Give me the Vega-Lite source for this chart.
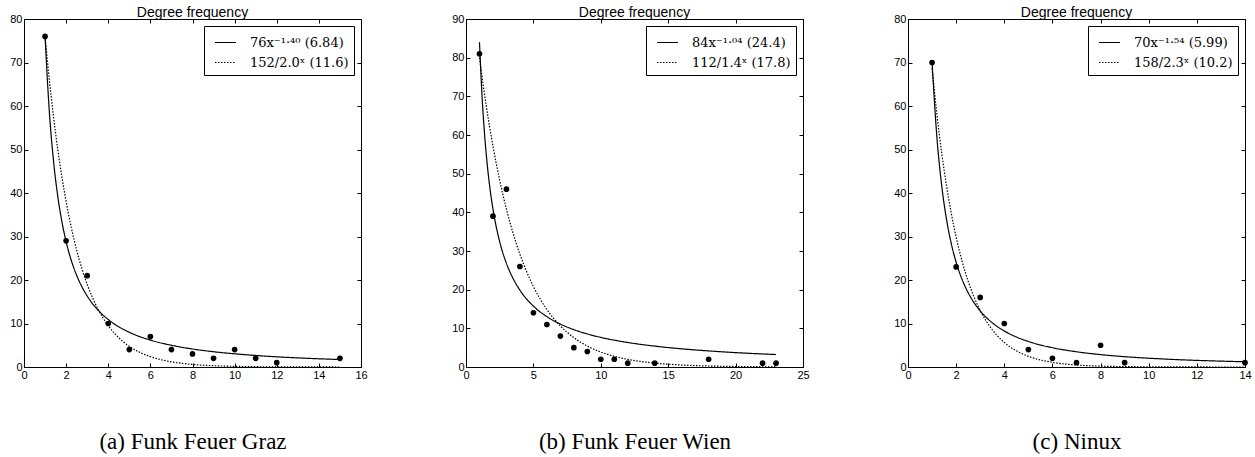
{
  "$schema": "https://vega.github.io/schema/vega-lite/v6.json",
  "background": "white",
  "padding": {"left": 9, "top": 5, "right": 5, "bottom": 5},
  "spacing": 105,
  "bounds": "flush",
  "resolve": {"scale": {"strokeDash": "independent"}, "legend": {"strokeDash": "independent"}},
  "datasets": {
    "c1": [
      {"f": "power", "x": 1, "y": 76}, {"f": "power", "x": 1.2, "y": 58.88}, {"f": "power", "x": 1.4, "y": 47.45}, {"f": "power", "x": 1.6, "y": 39.36}, {"f": "power", "x": 1.8, "y": 33.38}, {"f": "power", "x": 2, "y": 28.8}, {"f": "power", "x": 2.25, "y": 24.42}, {"f": "power", "x": 2.5, "y": 21.07}, {"f": "power", "x": 2.75, "y": 18.44}, {"f": "power", "x": 3, "y": 16.32}, {"f": "power", "x": 3.5, "y": 13.16}, {"f": "power", "x": 4, "y": 10.91}, {"f": "power", "x": 4.5, "y": 9.25}, {"f": "power", "x": 5, "y": 7.98}, {"f": "power", "x": 6, "y": 6.18}, {"f": "power", "x": 7, "y": 4.99}, {"f": "power", "x": 8, "y": 4.14}, {"f": "power", "x": 9, "y": 3.51}, {"f": "power", "x": 10, "y": 3.03}, {"f": "power", "x": 11, "y": 2.65}, {"f": "power", "x": 12, "y": 2.34}, {"f": "power", "x": 13, "y": 2.1}, {"f": "power", "x": 14, "y": 1.89}, {"f": "power", "x": 15, "y": 1.72},
      {"f": "exp", "x": 1, "y": 76}, {"f": "exp", "x": 1.2, "y": 66.16}, {"f": "exp", "x": 1.4, "y": 57.6}, {"f": "exp", "x": 1.6, "y": 50.14}, {"f": "exp", "x": 1.8, "y": 43.65}, {"f": "exp", "x": 2, "y": 38}, {"f": "exp", "x": 2.25, "y": 31.95}, {"f": "exp", "x": 2.5, "y": 26.87}, {"f": "exp", "x": 2.75, "y": 22.59}, {"f": "exp", "x": 3, "y": 19}, {"f": "exp", "x": 3.5, "y": 13.43}, {"f": "exp", "x": 4, "y": 9.5}, {"f": "exp", "x": 4.5, "y": 6.72}, {"f": "exp", "x": 5, "y": 4.75}, {"f": "exp", "x": 5.5, "y": 3.36}, {"f": "exp", "x": 6, "y": 2.375}, {"f": "exp", "x": 6.5, "y": 1.68}, {"f": "exp", "x": 7, "y": 1.19}, {"f": "exp", "x": 8, "y": 0.59}, {"f": "exp", "x": 9, "y": 0.3}, {"f": "exp", "x": 10, "y": 0.15}, {"f": "exp", "x": 11, "y": 0.07}, {"f": "exp", "x": 12, "y": 0.04}, {"f": "exp", "x": 13, "y": 0.02}, {"f": "exp", "x": 14, "y": 0.01}, {"f": "exp", "x": 15, "y": 0.005}
    ],
    "p1": [
      {"x": 1, "y": 76}, {"x": 2, "y": 29}, {"x": 3, "y": 21}, {"x": 4, "y": 10}, {"x": 5, "y": 4}, {"x": 6, "y": 7}, {"x": 7, "y": 4}, {"x": 8, "y": 3}, {"x": 9, "y": 2}, {"x": 10, "y": 4}, {"x": 11, "y": 2}, {"x": 12, "y": 1}, {"x": 15, "y": 2}
    ],
    "c2": [
      {"f": "power", "x": 1, "y": 84}, {"f": "power", "x": 1.2, "y": 69.49}, {"f": "power", "x": 1.4, "y": 59.2}, {"f": "power", "x": 1.6, "y": 51.52}, {"f": "power", "x": 1.8, "y": 45.58}, {"f": "power", "x": 2, "y": 40.85}, {"f": "power", "x": 2.5, "y": 32.39}, {"f": "power", "x": 3, "y": 26.79}, {"f": "power", "x": 3.5, "y": 22.83}, {"f": "power", "x": 4, "y": 19.87}, {"f": "power", "x": 5, "y": 15.75}, {"f": "power", "x": 6, "y": 13.03}, {"f": "power", "x": 7, "y": 11.1}, {"f": "power", "x": 8, "y": 9.66}, {"f": "power", "x": 9, "y": 8.55}, {"f": "power", "x": 10, "y": 7.66}, {"f": "power", "x": 12, "y": 6.34}, {"f": "power", "x": 14, "y": 5.4}, {"f": "power", "x": 16, "y": 4.7}, {"f": "power", "x": 18, "y": 4.16}, {"f": "power", "x": 20, "y": 3.72}, {"f": "power", "x": 23, "y": 3.22},
      {"f": "exp", "x": 1, "y": 80}, {"f": "exp", "x": 1.25, "y": 73.54}, {"f": "exp", "x": 1.5, "y": 67.61}, {"f": "exp", "x": 1.75, "y": 62.16}, {"f": "exp", "x": 2, "y": 57.14}, {"f": "exp", "x": 2.5, "y": 48.29}, {"f": "exp", "x": 3, "y": 40.82}, {"f": "exp", "x": 3.5, "y": 34.5}, {"f": "exp", "x": 4, "y": 29.15}, {"f": "exp", "x": 5, "y": 20.82}, {"f": "exp", "x": 6, "y": 14.87}, {"f": "exp", "x": 7, "y": 10.62}, {"f": "exp", "x": 8, "y": 7.59}, {"f": "exp", "x": 9, "y": 5.42}, {"f": "exp", "x": 10, "y": 3.87}, {"f": "exp", "x": 11, "y": 2.77}, {"f": "exp", "x": 12, "y": 1.98}, {"f": "exp", "x": 13, "y": 1.41}, {"f": "exp", "x": 14, "y": 1.01}, {"f": "exp", "x": 16, "y": 0.51}, {"f": "exp", "x": 18, "y": 0.26}, {"f": "exp", "x": 20, "y": 0.13}, {"f": "exp", "x": 23, "y": 0.05}
    ],
    "p2": [
      {"x": 1, "y": 81}, {"x": 2, "y": 39}, {"x": 3, "y": 46}, {"x": 4, "y": 26}, {"x": 5, "y": 14}, {"x": 6, "y": 11}, {"x": 7, "y": 8}, {"x": 8, "y": 5}, {"x": 9, "y": 4}, {"x": 10, "y": 2}, {"x": 11, "y": 2}, {"x": 12, "y": 1}, {"x": 14, "y": 1}, {"x": 18, "y": 2}, {"x": 22, "y": 1}, {"x": 23, "y": 1}
    ],
    "c3": [
      {"f": "power", "x": 1, "y": 70}, {"f": "power", "x": 1.2, "y": 52.86}, {"f": "power", "x": 1.4, "y": 41.69}, {"f": "power", "x": 1.6, "y": 33.94}, {"f": "power", "x": 1.8, "y": 28.31}, {"f": "power", "x": 2, "y": 24.07}, {"f": "power", "x": 2.25, "y": 20.08}, {"f": "power", "x": 2.5, "y": 17.07}, {"f": "power", "x": 2.75, "y": 14.74}, {"f": "power", "x": 3, "y": 12.89}, {"f": "power", "x": 3.5, "y": 10.17}, {"f": "power", "x": 4, "y": 8.28}, {"f": "power", "x": 4.5, "y": 6.9}, {"f": "power", "x": 5, "y": 5.87}, {"f": "power", "x": 6, "y": 4.43}, {"f": "power", "x": 7, "y": 3.5}, {"f": "power", "x": 8, "y": 2.85}, {"f": "power", "x": 9, "y": 2.37}, {"f": "power", "x": 10, "y": 2.02}, {"f": "power", "x": 11, "y": 1.74}, {"f": "power", "x": 12, "y": 1.52}, {"f": "power", "x": 13, "y": 1.35}, {"f": "power", "x": 14, "y": 1.2},
      {"f": "exp", "x": 1, "y": 68.7}, {"f": "exp", "x": 1.2, "y": 58.15}, {"f": "exp", "x": 1.4, "y": 49.23}, {"f": "exp", "x": 1.6, "y": 41.68}, {"f": "exp", "x": 1.8, "y": 35.28}, {"f": "exp", "x": 2, "y": 29.87}, {"f": "exp", "x": 2.25, "y": 24.25}, {"f": "exp", "x": 2.5, "y": 19.69}, {"f": "exp", "x": 2.75, "y": 15.99}, {"f": "exp", "x": 3, "y": 12.99}, {"f": "exp", "x": 3.5, "y": 8.56}, {"f": "exp", "x": 4, "y": 5.65}, {"f": "exp", "x": 4.5, "y": 3.72}, {"f": "exp", "x": 5, "y": 2.45}, {"f": "exp", "x": 6, "y": 1.07}, {"f": "exp", "x": 7, "y": 0.46}, {"f": "exp", "x": 8, "y": 0.2}, {"f": "exp", "x": 9, "y": 0.09}, {"f": "exp", "x": 10, "y": 0.04}, {"f": "exp", "x": 11, "y": 0.02}, {"f": "exp", "x": 12, "y": 0.01}, {"f": "exp", "x": 13, "y": 0.003}, {"f": "exp", "x": 14, "y": 0.001}
    ],
    "p3": [
      {"x": 1, "y": 70}, {"x": 2, "y": 23}, {"x": 3, "y": 16}, {"x": 4, "y": 10}, {"x": 5, "y": 4}, {"x": 6, "y": 2}, {"x": 7, "y": 1}, {"x": 8, "y": 5}, {"x": 9, "y": 1}, {"x": 14, "y": 1}
    ]
  },
  "hconcat": [
    {
      "width": 337, "height": 348,
      "title": "Degree frequency",
      "resolve": {"axis": {"x": "independent", "y": "independent"}},
      "layer": [
        {
          "data": {"name": "c1"},
          "mark": {"type": "line", "color": "black", "strokeWidth": 1.2, "interpolate": "monotone"},
          "encoding": {
            "x": {"field": "x", "type": "quantitative", "scale": {"domain": [0, 16], "nice": false}, "axis": {"values": [0, 2, 4, 6, 8, 10, 12, 14, 16], "title": "(a) Funk Feuer Graz"}},
            "y": {"field": "y", "type": "quantitative", "scale": {"domain": [0, 80], "nice": false}, "axis": {"values": [0, 10, 20, 30, 40, 50, 60, 70, 80], "title": null}},
            "strokeDash": {"field": "f", "type": "nominal", "scale": {"domain": ["power", "exp"], "range": [[1, 0], [1.5, 1.5]]}, "legend": {"labelExpr": "datum.label == 'power' ? '76x⁻¹·⁴⁰ (6.84)' : '152/2.0ˣ (11.6)'"}}
          }
        },
        {
          "data": {"name": "p1"},
          "mark": {"type": "circle", "color": "black", "size": 32, "opacity": 1},
          "encoding": {
            "x": {"field": "x", "type": "quantitative", "axis": {"orient": "top", "labels": false, "title": null, "values": [0, 2, 4, 6, 8, 10, 12, 14, 16]}},
            "y": {"field": "y", "type": "quantitative", "axis": {"orient": "right", "labels": false, "title": null, "values": [0, 10, 20, 30, 40, 50, 60, 70, 80]}}
          }
        }
      ]
    },
    {
      "width": 337, "height": 348,
      "title": "Degree frequency",
      "resolve": {"axis": {"x": "independent", "y": "independent"}},
      "layer": [
        {
          "data": {"name": "c2"},
          "mark": {"type": "line", "color": "black", "strokeWidth": 1.2, "interpolate": "monotone"},
          "encoding": {
            "x": {"field": "x", "type": "quantitative", "scale": {"domain": [0, 25], "nice": false}, "axis": {"values": [0, 5, 10, 15, 20, 25], "title": "(b) Funk Feuer Wien"}},
            "y": {"field": "y", "type": "quantitative", "scale": {"domain": [0, 90], "nice": false}, "axis": {"values": [0, 10, 20, 30, 40, 50, 60, 70, 80, 90], "title": null}},
            "strokeDash": {"field": "f", "type": "nominal", "scale": {"domain": ["power", "exp"], "range": [[1, 0], [1.5, 1.5]]}, "legend": {"labelExpr": "datum.label == 'power' ? '84x⁻¹·⁰⁴ (24.4)' : '112/1.4ˣ (17.8)'"}}
          }
        },
        {
          "data": {"name": "p2"},
          "mark": {"type": "circle", "color": "black", "size": 32, "opacity": 1},
          "encoding": {
            "x": {"field": "x", "type": "quantitative", "axis": {"orient": "top", "labels": false, "title": null, "values": [0, 5, 10, 15, 20, 25]}},
            "y": {"field": "y", "type": "quantitative", "axis": {"orient": "right", "labels": false, "title": null, "values": [0, 10, 20, 30, 40, 50, 60, 70, 80, 90]}}
          }
        }
      ]
    },
    {
      "width": 337, "height": 348,
      "title": "Degree frequency",
      "resolve": {"axis": {"x": "independent", "y": "independent"}},
      "layer": [
        {
          "data": {"name": "c3"},
          "mark": {"type": "line", "color": "black", "strokeWidth": 1.2, "interpolate": "monotone"},
          "encoding": {
            "x": {"field": "x", "type": "quantitative", "scale": {"domain": [0, 14], "nice": false}, "axis": {"values": [0, 2, 4, 6, 8, 10, 12, 14], "title": "(c) Ninux"}},
            "y": {"field": "y", "type": "quantitative", "scale": {"domain": [0, 80], "nice": false}, "axis": {"values": [0, 10, 20, 30, 40, 50, 60, 70, 80], "title": null}},
            "strokeDash": {"field": "f", "type": "nominal", "scale": {"domain": ["power", "exp"], "range": [[1, 0], [1.5, 1.5]]}, "legend": {"labelExpr": "datum.label == 'power' ? '70x⁻¹·⁵⁴ (5.99)' : '158/2.3ˣ (10.2)'"}}
          }
        },
        {
          "data": {"name": "p3"},
          "mark": {"type": "circle", "color": "black", "size": 32, "opacity": 1},
          "encoding": {
            "x": {"field": "x", "type": "quantitative", "axis": {"orient": "top", "labels": false, "title": null, "values": [0, 2, 4, 6, 8, 10, 12, 14]}},
            "y": {"field": "y", "type": "quantitative", "axis": {"orient": "right", "labels": false, "title": null, "values": [0, 10, 20, 30, 40, 50, 60, 70, 80]}}
          }
        }
      ]
    }
  ],
  "config": {
    "view": {"stroke": "black", "strokeWidth": 1},
    "axis": {
      "grid": false,
      "domainColor": "black",
      "domainWidth": 1,
      "tickColor": "black",
      "tickSize": -4,
      "tickWidth": 1,
      "labelPadding": 6,
      "labelFont": "Liberation Sans",
      "labelFontSize": 11,
      "labelColor": "black",
      "labelFlush": false,
      "labelOverlap": false,
      "titleFont": "Liberation Serif",
      "titleFontSize": 23,
      "titleFontWeight": "normal",
      "titleColor": "black",
      "titlePadding": 50
    },
    "title": {
      "font": "Liberation Sans",
      "fontSize": 14,
      "fontWeight": "normal",
      "color": "black",
      "anchor": "middle",
      "baseline": "alphabetic",
      "offset": -7
    },
    "legend": {
      "orient": "top-right",
      "offset": 7,
      "title": null,
      "strokeColor": "black",
      "fillColor": "white",
      "padding": 5,
      "cornerRadius": 0,
      "labelFont": "DejaVu Serif",
      "labelFontSize": 13,
      "labelColor": "black",
      "symbolType": "stroke",
      "symbolSize": 441,
      "symbolOffset": 5,
      "symbolStrokeWidth": 1.2,
      "symbolStrokeColor": "black",
      "labelOffset": 13,
      "rowPadding": 1
    }
  }
}
